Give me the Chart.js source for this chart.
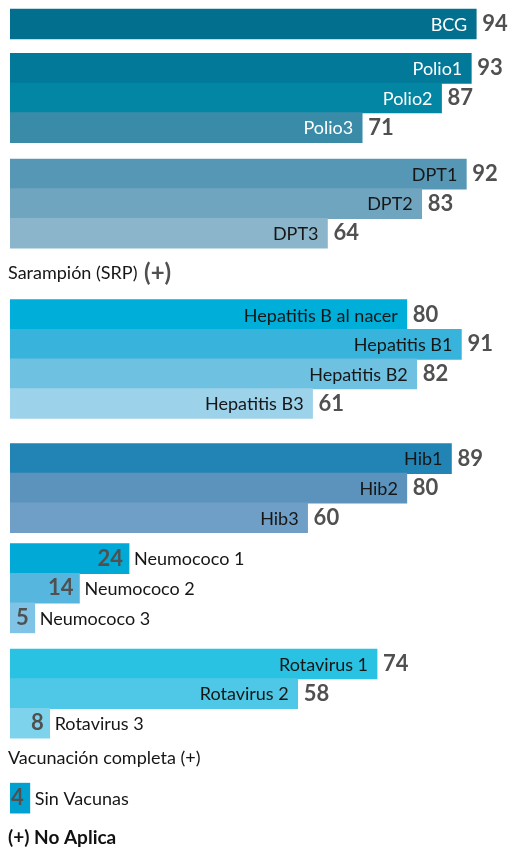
<!DOCTYPE html>
<html>
<head>
<meta charset="utf-8">
<script src="https://cdn.jsdelivr.net/npm/chart.js@4/dist/chart.umd.min.js"></script>
<style>
  html, body { margin: 0; padding: 0; background: #fff; }
  #wrap { width: 510px; height: 847px; }
</style>
</head>
<body>
<div id="wrap"><canvas id="chart" width="510" height="847"></canvas></div>
<script>
// vacunas (filas de arriba abajo), null = fila de solo texto
const categories = ['BCG', 'Polio1', 'Polio2', 'Polio3', 'DPT1', 'DPT2', 'DPT3',
    'Sarampión (SRP)', 'Hepatitis B al nacer', 'Hepatitis B1', 'Hepatitis B2', 'Hepatitis B3',
    'Hib1', 'Hib2', 'Hib3', 'Neumococo 1', 'Neumococo 2', 'Neumococo 3',
    'Rotavirus 1', 'Rotavirus 2', 'Rotavirus 3', 'Vacunación completa', 'Sin Vacunas'];
const values = [94, 93, 87, 71, 92, 83, 64,
    null, 80, 91, 82, 61,
    89, 80, 60, 24, 14, 5,
    74, 58, 8, null, 4];
const groups = [0, 1, 1, 1, 2, 2, 2, 3, 4, 4, 4, 4, 5, 5, 5, 6, 6, 6, 7, 7, 7, 8, 9];
const footnote = '(+) No Aplica';

// estilo
const barColors = ['#036f8e', '#03799a', '#0386a3', '#3a8ba8', '#5597b5', '#70a5c0', '#8ab5ca',
    null, '#00afd9', '#38b3dc', '#6fc1e2', '#9cd2ea',
    '#2283b5', '#5b93bd', '#6f9fc6', '#00a9d6', '#56b6de', '#7fc4e6',
    '#29c2e3', '#4ec8e6', '#7dd3ec', null, '#00a0d0'];
const whiteLabel = [true, true, true, true];
const groupGap = [0, 0.5, 0.57, 0.35, 0.4, 0.86, 0.38, 0.56, 0.18, 0.35];
const FONT = 'Lato, "Open Sans", sans-serif';
const DARK = '#161616';
const NUM = '#505050';

// posicion de cada fila en unidades de fila
let acc = 0;
const rowPos = categories.map((c, i) => {
    if (i > 0 && groups[i] !== groups[i - 1]) acc += groupGap[groups[i]];
    return i + acc;
});

const barRows = [];
categories.forEach((c, i) => { if (values[i] !== null) barRows.push(i); });

const labelPlugin = {
    id: 'labels',
    afterDatasetsDraw(chart) {
        const ctx = chart.ctx;
        const meta = chart.getDatasetMeta(0);
        const yScale = chart.scales.y;
        ctx.save();
        ctx.textBaseline = 'middle';
        barRows.forEach((row, k) => {
            const bar = meta.data[k];
            const v = values[row];
            const y = bar.y;
            if (v >= 30) {
                ctx.font = '18px ' + FONT;
                ctx.textAlign = 'right';
                ctx.fillStyle = whiteLabel[row] ? '#ffffff' : DARK;
                ctx.fillText(categories[row], bar.x - 9, y + 1);
                ctx.font = 'bold 22px ' + FONT;
                ctx.textAlign = 'left';
                ctx.fillStyle = NUM;
                ctx.fillText(String(v), bar.x + 6, y);
            } else {
                ctx.font = 'bold 22px ' + FONT;
                ctx.textAlign = 'right';
                ctx.fillStyle = NUM;
                ctx.fillText(String(v), bar.x - 6, y);
                ctx.font = '18px ' + FONT;
                ctx.textAlign = 'left';
                ctx.fillStyle = DARK;
                ctx.fillText(categories[row], bar.x + 5, y + 1);
            }
        });
        // filas sin barra
        categories.forEach((c, i) => {
            if (values[i] !== null) return;
            const y = yScale.getPixelForValue(rowPos[i]);
            ctx.textAlign = 'left';
            ctx.font = '18px ' + FONT;
            ctx.fillStyle = DARK;
            ctx.fillText(c, 8, y);
            const w = ctx.measureText(c + ' ').width;
            if (i === 7) {
                ctx.font = 'bold 24px ' + FONT;
                ctx.fillStyle = NUM;
                ctx.fillText('(+)', 10 + w, y);
            } else {
                ctx.fillText('(+)', 8 + w, y);
            }
        });
        ctx.font = 'bold 19px ' + FONT;
        ctx.fillStyle = '#111';
        ctx.fillText(footnote, 8, yScale.getPixelForValue(rowPos[rowPos.length - 1] + 1.35));
        ctx.restore();
    }
};

new Chart(document.getElementById('chart'), {
    type: 'bar',
    data: {
        datasets: [{
            data: barRows.map(i => ({ x: values[i], y: rowPos[i] })),
            backgroundColor: barRows.map(i => barColors[i]),
            borderWidth: 0,
            barThickness: 30
        }]
    },
    options: {
        indexAxis: 'y',
        responsive: false,
        animation: false,
        layout: { padding: { left: 10, right: 0, top: 0, bottom: 0 } },
        scales: {
            x: { type: 'linear', min: 0, max: 100.8, display: false },
            y: { type: 'linear', min: -0.81, max: 27.8, reverse: true, offset: false, display: false }
        },
        plugins: {
            legend: { display: false },
            tooltip: { enabled: false }
        }
    },
    plugins: [labelPlugin]
});
</script>
</body>
</html>
